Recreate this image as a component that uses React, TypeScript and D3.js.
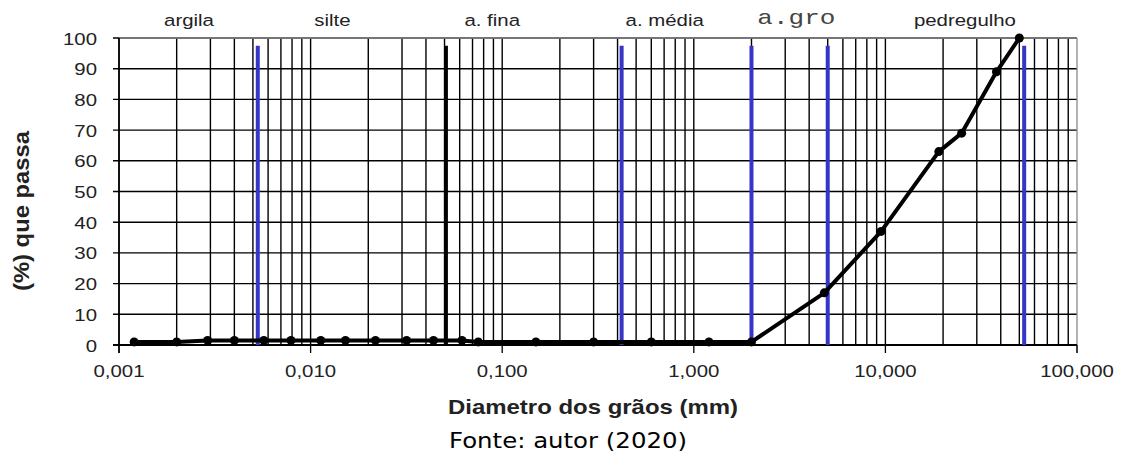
import * as d3 from "d3";

// grain size distribution (mm, % passing)
const diameters = [
  0.0012, 0.002, 0.0029, 0.004, 0.0057, 0.0079, 0.0113, 0.0152, 0.0218, 0.0317,
  0.0438, 0.0617, 0.075, 0.15, 0.3, 0.6, 1.2, 2.0, 4.8, 9.5, 19, 25, 38, 50,
];
const passing = [
  1, 1, 1.5, 1.5, 1.5, 1.5, 1.5, 1.5, 1.5, 1.5,
  1.5, 1.5, 1, 1, 1, 1, 1, 1, 17, 37, 63, 69, 89, 100,
];

// class boundaries
const blueLimits = [0.0053, 0.42, 2.0, 5.0, 53];
const blackLimits = [0.051];

const classLabels = ["argila", "silte", "a. fina", "a. média", "a.gro", "pedregulho"];
const classLabelAt = [0.00232, 0.013, 0.0887, 0.705, 3.43, 26];

const xTicks = [0.001, 0.01, 0.1, 1, 10, 100];
const xTickLabels = ["0,001", "0,010", "0,100", "1,000", "10,000", "100,000"];
const yTicks = [0, 10, 20, 30, 40, 50, 60, 70, 80, 90, 100];

const W = 1126;
const H = 454;
const m = { left: 119, right: 49, top: 38, bottom: 109 };
const font = "Liberation Sans, Arial, sans-serif";

// text stretched horizontally like the source image
function T(props: {
  x: number;
  y: number;
  anchor?: string;
  size?: number;
  sx?: number;
  family?: string;
  weight?: string;
  fill?: string;
  children: string | number;
}) {
  const { x, y, anchor = "middle", size = 17, sx = 1.2, family = font, weight = "normal", fill = "#222" } = props;
  return (
    <g transform={`translate(${x},${y}) scale(${sx},1)`}>
      <text textAnchor={anchor} fontFamily={family} fontSize={size} fontWeight={weight} fill={fill}>
        {props.children}
      </text>
    </g>
  );
}

export default function App() {
  const x = d3.scaleLog().domain([0.001, 100]).range([m.left, W - m.right]);
  const y = d3.scaleLinear().domain([0, 100]).range([H - m.bottom, m.top]);

  const minor: number[] = [];
  for (let k = -3; k < 2; k++) {
    for (let i = 1; i < 10; i++) minor.push(i * Math.pow(10, k));
  }

  const pts = diameters.map((d, i) => [d, passing[i]] as [number, number]);
  const line = d3
    .line<[number, number]>()
    .x((d) => x(d[0]))
    .y((d) => y(d[1]));

  const y0 = y(0);
  const yLim = y(97.5);

  return (
    <svg
      width={W}
      height={H}
      style={{ position: "absolute", left: 0, top: 0, background: "#fff" }}
    >
      {/* grid */}
      {minor.map((v, i) => (
        <line key={"v" + i} x1={x(v)} x2={x(v)} y1={m.top} y2={y0} stroke="#000" strokeWidth={1.4} />
      ))}
      {yTicks.map((v) => (
        <line key={"h" + v} x1={m.left - 6} x2={x(100)} y1={y(v)} y2={y(v)} stroke="#000" strokeWidth={1.4} />
      ))}
      {/* frame */}
      <line x1={m.left} x2={x(100)} y1={m.top} y2={m.top} stroke="#888" strokeWidth={1.3} />
      <line x1={x(100)} x2={x(100)} y1={m.top} y2={y0 + 8} stroke="#888" strokeWidth={1.3} />
      <line x1={m.left} x2={m.left} y1={m.top} y2={y0 + 8} stroke="#000" strokeWidth={1.5} />
      <line x1={m.left - 6} x2={x(100)} y1={y0} y2={y0} stroke="#000" strokeWidth={1.8} />
      {xTicks.map((v) => (
        <line key={"t" + v} x1={x(v)} x2={x(v)} y1={y0} y2={y0 + 8} stroke="#000" strokeWidth={1.3} />
      ))}

      {/* class limits */}
      {blueLimits.map((v) => (
        <line key={"b" + v} x1={x(v)} x2={x(v)} y1={yLim} y2={y0} stroke="#3535c8" strokeWidth={4} />
      ))}
      {blackLimits.map((v) => (
        <line key={"k" + v} x1={x(v)} x2={x(v)} y1={yLim} y2={y0} stroke="#000" strokeWidth={3.5} />
      ))}

      {/* curve */}
      <path d={line(pts) || ""} fill="none" stroke="#000" strokeWidth={4} strokeLinejoin="round" />
      {pts.map((p, i) => (
        <circle key={"p" + i} cx={x(p[0])} cy={y(p[1])} r={4.5} fill="#000" />
      ))}

      {/* tick labels */}
      {yTicks.map((v) => (
        <T key={"yl" + v} x={97} y={y(v) + 6.5} anchor="end">
          {v}
        </T>
      ))}
      {xTicks.map((v, i) => (
        <T key={"xl" + v} x={x(v)} y={y0 + 32}>
          {xTickLabels[i]}
        </T>
      ))}

      {/* class labels */}
      {classLabels.map((t, i) =>
        t === "a.gro" ? (
          <text
            key={"c" + i}
            x={x(classLabelAt[i])}
            y={24}
            textAnchor="middle"
            fontFamily="Liberation Mono, monospace"
            fontSize={21}
            textLength={78}
            lengthAdjust="spacingAndGlyphs"
            fill="#444"
          >
            {t}
          </text>
        ) : (
          <T key={"c" + i} x={x(classLabelAt[i])} y={26}>
            {t}
          </T>
        )
      )}

      {/* axis titles */}
      <text
        transform={`translate(28.5,211) rotate(-90)`}
        textAnchor="middle"
        fontFamily={font}
        fontWeight="bold"
        fontSize={22}
        textLength={160}
        lengthAdjust="spacingAndGlyphs"
        fill="#222"
      >
        (%) que passa
      </text>
      <text
        x={593}
        y={414}
        textAnchor="middle"
        fontFamily={font}
        fontWeight="bold"
        fontSize={20.5}
        textLength={290}
        lengthAdjust="spacingAndGlyphs"
        fill="#222"
      >
        Diametro dos grãos (mm)
      </text>
      <text
        x={568}
        y={448}
        textAnchor="middle"
        fontFamily="DejaVu Sans, sans-serif"
        fontSize={21}
        textLength={238}
        lengthAdjust="spacingAndGlyphs"
        fill="#000"
      >
        Fonte: autor (2020)
      </text>
    </svg>
  );
}
